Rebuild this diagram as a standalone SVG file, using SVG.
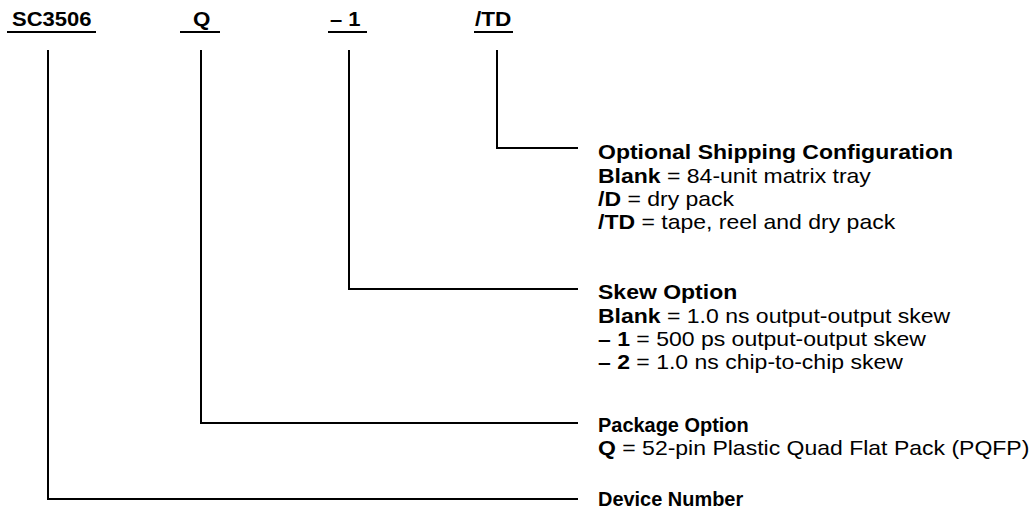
<svg xmlns="http://www.w3.org/2000/svg" width="1036" height="510" viewBox="0 0 1036 510">
<style>
  text { font-family: "Liberation Sans", Arial, Helvetica, sans-serif; font-size: 20px; fill: #000; }
  .b { font-weight: bold; }
  .tall { font-size: 21px; }
  .conn { fill: none; stroke: #000; stroke-width: 2; }
  .ul { stroke: #000; stroke-width: 2; }
</style>
<rect width="1036" height="510" fill="#fff"/>
<g id="labels">
  <g id="label-sc3506">
    <g transform="translate(12 26) scale(1.1 1)"><text class="b" x="0" y="0">SC3506</text></g>
    <line class="ul" x1="7" y1="32" x2="96" y2="32"/>
  </g>
  <g id="label-q">
    <g transform="translate(193 26) scale(1.12 1)"><text class="b" x="0" y="0">Q</text></g>
    <line class="ul" x1="180" y1="32" x2="220" y2="32"/>
  </g>
  <g id="label-skew">
    <g transform="translate(330 26) scale(1.1 1)"><text class="b" x="0" y="0">– 1</text></g>
    <line class="ul" x1="328" y1="32" x2="367" y2="32"/>
  </g>
  <g id="label-td">
    <g transform="translate(475 26) scale(1.13 1)"><text class="b" x="0" y="0">/TD</text></g>
    <line class="ul" x1="474" y1="32" x2="513" y2="32"/>
  </g>
</g>
<g id="connectors">
  <polyline class="conn" points="497,50 497,148 578,148"/>
  <polyline class="conn" points="349,50 349,289 578,289"/>
  <polyline class="conn" points="201,50 201,423 578,423"/>
  <polyline class="conn" points="48,50 48,499 578,499"/>
</g>
<g id="shipping">
  <g transform="translate(598 0) scale(1.15 1)">
    <text class="b" x="0" y="159">Optional Shipping Configuration</text>
    <text x="0" y="183"><tspan class="b">Blank</tspan> = 84-unit matrix tray</text>
    <text x="0" y="206"><tspan class="b">/D</tspan> = dry pack</text>
    <text x="0" y="229"><tspan class="b">/TD</tspan> = tape, reel and dry pack</text>
  </g>
</g>
<g id="skew-option">
  <g transform="translate(598 0) scale(1.15 1)">
    <text class="b" x="0" y="299">Skew Option</text>
    <text x="0" y="323"><tspan class="b">Blank</tspan> = 1.0 ns output-output skew</text>
    <text x="0" y="346"><tspan class="b">– 1</tspan> = 500 ps output-output skew</text>
    <text x="0" y="369"><tspan class="b">– 2</tspan> = 1.0 ns chip-to-chip skew</text>
  </g>
</g>
<g id="package-option">
  <g transform="translate(598 0) scale(0.95 1)">
    <text class="b tall" x="0" y="432">Package Option</text>
  </g>
  <g transform="translate(598 0) scale(1.15 1)">
    <text x="0" y="455"><tspan class="b">Q</tspan> = 52-pin Plastic Quad Flat Pack (PQFP)</text>
  </g>
</g>
<g id="device-number">
  <g transform="translate(598 0) scale(0.95 1)">
    <text class="b tall" x="0" y="506">Device Number</text>
  </g>
</g>
</svg>
